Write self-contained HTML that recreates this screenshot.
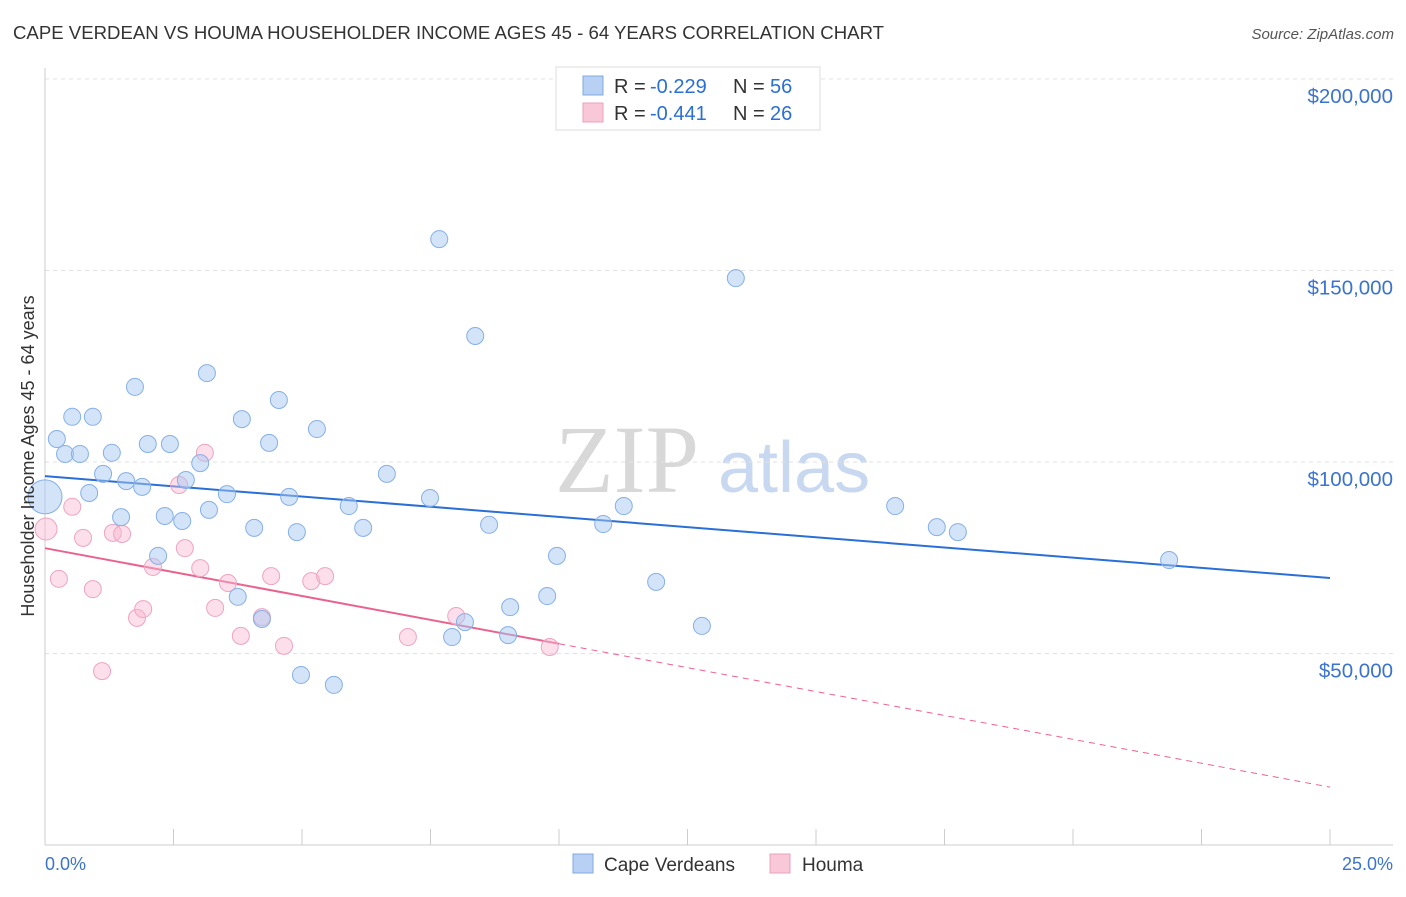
<!DOCTYPE html>
<html><head><meta charset="utf-8"><style>
body{margin:0;background:#fff;font-family:"Liberation Sans",sans-serif;}
svg text{font-family:"Liberation Sans",sans-serif;}
</style></head><body>
<svg id="c" width="1406" height="892" viewBox="0 0 1406 892" xmlns="http://www.w3.org/2000/svg">
<text x="13" y="39" font-size="18.6" fill="#333">CAPE VERDEAN VS HOUMA HOUSEHOLDER INCOME AGES 45 - 64 YEARS CORRELATION CHART</text>
<text x="1394" y="39" font-size="15" fill="#555" text-anchor="end" font-style="italic">Source: ZipAtlas.com</text>
<g>
<text x="555" y="492" font-size="96" fill="#d8d8d8" font-family="Liberation Serif" style="font-family:'Liberation Serif',serif">ZIP</text>
<text x="718" y="492" font-size="72" fill="#c8d8f0">atlas</text>
</g>
<g id="grid"></g><g id="axes"></g><g id="lines"></g><g id="pts"></g>
<text transform="translate(34,456) rotate(-90)" font-size="18" fill="#333" text-anchor="middle">Householder Income Ages 45 - 64 years</text>
<text x="45" y="870" font-size="18" fill="#3b73d0">0.0%</text>
<text x="1393" y="870" font-size="18" fill="#3b73d0" text-anchor="end">25.0%</text>
<g>
<rect x="556" y="67" width="264" height="63" fill="#fff" stroke="#ddd"/>
<rect x="583" y="76" width="20" height="19" fill="#b8d0f4" stroke="#7fa8e0"/>
<rect x="583" y="103" width="20" height="19" fill="#f8c8d8" stroke="#eca0bc"/>
<text x="614" y="93" font-size="20" fill="#333">R =</text>
<text x="650" y="93" font-size="20" fill="#2a6fd6">-0.229</text>
<text x="733" y="93" font-size="20" fill="#333">N =</text>
<text x="770" y="93" font-size="20" fill="#2a6fd6">56</text>
<text x="614" y="120" font-size="20" fill="#333">R =</text>
<text x="650" y="120" font-size="20" fill="#2a6fd6">-0.441</text>
<text x="733" y="120" font-size="20" fill="#333">N =</text>
<text x="770" y="120" font-size="20" fill="#2a6fd6">26</text>
</g>
<g>
<rect x="573" y="854" width="20" height="19" fill="#b8d0f4" stroke="#7fa8e0"/>
<text x="604" y="871" font-size="19" fill="#333">Cape Verdeans</text>
<rect x="770" y="854" width="20" height="19" fill="#f8c8d8" stroke="#eca0bc"/>
<text x="802" y="871" font-size="19" fill="#333">Houma</text>
</g>
</svg>
<script>
const yTicks=[50000,100000,150000,200000];
const yTickLabels=["$50,000","$100,000","$150,000","$200,000"];
const blueX=[0,0.23,0.39,0.53,0.68,0.93,0.86,1.13,1.30,1.48,1.58,1.75,1.89,2.00,2.20,2.33,2.43,2.67,2.74,3.02,3.15,3.19,3.54,3.75,3.83,4.07,4.22,4.36,4.55,4.75,4.90,4.98,5.29,5.62,5.91,6.19,6.65,7.49,7.67,7.92,8.17,8.37,8.64,9.01,9.05,9.77,9.96,10.86,11.26,11.89,12.78,13.44,16.54,17.35,17.76,21.87];
const blueY=[90.9,106.0,102.1,111.8,102.1,111.8,91.9,96.9,102.4,85.6,95.0,119.6,93.5,104.7,75.5,85.9,104.7,84.6,95.3,99.7,123.2,87.5,91.6,64.8,111.2,82.8,59.0,105.0,116.2,90.9,81.7,44.4,108.6,41.8,88.5,82.8,96.9,90.6,158.2,54.3,58.2,132.9,83.6,54.8,62.1,65.0,75.5,83.8,88.5,68.7,57.2,148.0,88.5,83.0,81.7,74.4];
const pinkX=[0.02,0.27,0.53,0.74,0.93,1.11,1.32,1.50,1.79,1.91,2.10,2.61,2.72,3.02,3.11,3.31,3.56,3.81,4.22,4.40,4.65,5.18,5.45,7.06,8.00,9.82];
const pinkY=[82.5,69.5,88.3,80.2,66.8,45.4,81.5,81.2,59.3,61.6,72.6,94.0,77.5,72.3,102.4,61.9,68.4,54.6,59.5,70.2,52.0,68.9,70.2,54.3,59.8,51.7];
const blueTrend=[96.3,69.7];
const pinkTrend=[77.5,15.1];
const pinkSolidEnd=10;
const NS="http://www.w3.org/2000/svg";
const X=v=>45+v/25*1285;
const Y=v=>845-v/50000*191.5;
function mk(tag,attrs,parent){const e=document.createElementNS(NS,tag);for(const k in attrs)e.setAttribute(k,attrs[k]);document.getElementById(parent).appendChild(e);return e;}
yTicks.forEach((t,i)=>{
 const l=mk('line',{x1:45,x2:1393,y1:Y(t),y2:Y(t),stroke:'#e2e2e2','stroke-dasharray':'4,4'},'grid');
 
 
 const tx=mk('text',{x:1393,y:Y(t)+24,'font-size':20.5,fill:'#3b73d0','text-anchor':'end'},'grid');
 tx.textContent=yTickLabels[i];
 
 
});
const ax=mk('line',{x1:45,x2:1393,y1:845,y2:845,stroke:'#ccc'},'axes');


const ay=mk('line',{x1:45,x2:45,y1:68,y2:845,stroke:'#ccc'},'axes');


for(let i=0;i<=10;i++){
 const t=mk('line',{x1:X(i*2.5),x2:X(i*2.5),y1:829,y2:845,stroke:'#ccc'},'axes');
 
 
}
function trend(tr,col,solidEnd,name){
 const f=x=>tr[0]+(tr[1]-tr[0])*x/25;
 const l=mk('line',{x1:X(0),y1:Y(f(0)*1000),x2:X(solidEnd),y2:Y(f(solidEnd)*1000),stroke:col,'stroke-width':2},'lines');
 
 
 if(solidEnd<25){
  const d=mk('line',{x1:X(solidEnd),y1:Y(f(solidEnd)*1000),x2:X(25),y2:Y(f(25)*1000),stroke:col,'stroke-width':1,'stroke-dasharray':'6,5'},'lines');
  
  
 }
}
function pts(xs,ys,fill,stroke,name){
 xs.forEach((x,i)=>{
  const r=(i===0)?(name==='cape-verdean-point'?17:11):8.5;
  const c=mk('circle',{cx:X(x),cy:Y(ys[i]*1000),r:r,fill:fill,stroke:stroke,'stroke-width':1},'pts');
  
  
 });
}
pts(pinkX,pinkY,'rgba(248,184,208,0.45)','#eea4c0','houma-point');
pts(blueX,blueY,'rgba(168,200,242,0.5)','#86b0e6','cape-verdean-point');
trend(blueTrend,'#2a6fd6',25,'cape-verdean-trendline');
trend(pinkTrend,'#e8648e',pinkSolidEnd,'houma-trendline');
</script>
</body></html>
